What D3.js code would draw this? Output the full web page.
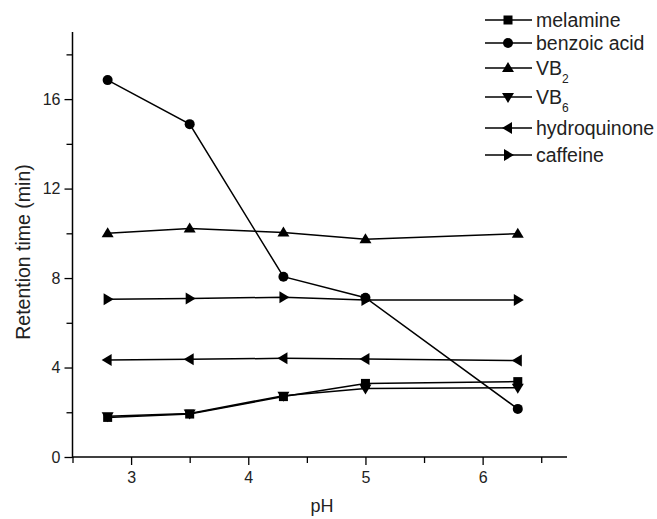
<!DOCTYPE html>
<html>
<head>
<meta charset="utf-8">
<script src="https://cdn.jsdelivr.net/npm/d3@7"></script>
<style>
  body { margin: 0; background: #fff; }
  svg { font-family: "Liberation Sans", Arial, sans-serif; }
</style>
</head>
<body>
<svg id="chart" width="657" height="519"></svg>
<script>
const phValues = [2.8, 3.5, 4.3, 5.0, 6.3];
const seriesNames = ['melamine', 'benzoic acid', 'VB2', 'VB6', 'hydroquinone', 'caffeine'];
const melamine = [1.77, 1.92, 2.7, 3.29, 3.37];
const benzoicAcid = [16.85, 14.88, 8.06, 7.12, 2.15];
const vb2 = [10.0, 10.22, 10.04, 9.74, 9.98];
const vb6 = [1.82, 1.95, 2.74, 3.06, 3.1];
const hydroquinone = [4.34, 4.37, 4.41, 4.38, 4.31];
const caffeine = [7.05, 7.09, 7.14, 7.02, 7.02];
const xMajorTicks = [3, 4, 5, 6];
const xMinorTicks = [2.5, 3.5, 4.5, 5.5, 6.5];
const yMajorTicks = [0, 4, 8, 12, 16];
const yMinorTicks = [2, 6, 10, 14, 18];

const allValues = [melamine, benzoicAcid, vb2, vb6, hydroquinone, caffeine];
const symbols = ['square', 'circle', 'up', 'down', 'left', 'right'];

const svg = d3.select('#chart');
const x = d3.scaleLinear().domain([2.5, 6.72]).range([72.5, 567]);
const y = d3.scaleLinear().domain([0, 19]).range([457, 32]);

// axes (ticks from d3, axis lines drawn separately so the ends have no caps)
const xAxis = svg.append('g').attr('transform', `translate(0,${y(0)})`);
xAxis.append('g').attr('class', 'major')
  .call(d3.axisBottom(x).tickValues(xMajorTicks).tickSize(8).tickFormat(d3.format('d')));
xAxis.append('g').attr('class', 'minor')
  .call(d3.axisBottom(x).tickValues(xMinorTicks).tickSize(6).tickFormat(''));
const yAxis = svg.append('g').attr('transform', `translate(${x(2.5)},0)`);
yAxis.append('g').attr('class', 'major')
  .call(d3.axisLeft(y).tickValues(yMajorTicks).tickSize(8).tickFormat(d3.format('d')));
yAxis.append('g').attr('class', 'minor')
  .call(d3.axisLeft(y).tickValues(yMinorTicks).tickSize(6).tickFormat(''));
svg.selectAll('.domain').remove();

xAxis.append('line').attr('x1', x(2.5)).attr('x2', x(6.72)).attr('stroke', '#000').attr('stroke-width', 1.5);
yAxis.append('line').attr('y1', y(0) + 0.75).attr('y2', y(19)).attr('stroke', '#000').attr('stroke-width', 1.5);

svg.selectAll('.tick line').attr('stroke', '#000').attr('stroke-width', 1.3);
svg.selectAll('.tick text').attr('font-size', 16).attr('fill', '#222');
xAxis.selectAll('.tick text').attr('y', 15);
yAxis.selectAll('.tick text').attr('x', -12);

// axis titles
svg.append('text').attr('x', 322).attr('y', 512).attr('text-anchor', 'middle')
  .attr('font-size', 18).attr('fill', '#222').text('pH');
svg.append('text').attr('transform', 'translate(30,252) rotate(-90)').attr('text-anchor', 'middle')
  .attr('font-size', 19.5).attr('fill', '#222').text('Retention time (min)');

function drawMarker(g, type, cx, cy) {
  const s = 5;
  if (type === 'square') {
    g.append('rect').attr('x', cx - 4.5).attr('y', cy - 4.5).attr('width', 9).attr('height', 9).attr('fill', '#000');
  } else if (type === 'circle') {
    g.append('circle').attr('cx', cx).attr('cy', cy).attr('r', 5).attr('fill', '#000');
  } else {
    let pts;
    if (type === 'up') pts = [[cx, cy - s - 1], [cx - s - 1, cy + s - 1], [cx + s + 1, cy + s - 1]];
    if (type === 'down') pts = [[cx, cy + s + 1], [cx - s - 1, cy - s + 1], [cx + s + 1, cy - s + 1]];
    if (type === 'left') pts = [[cx - s - 1, cy], [cx + s - 1, cy - s - 1], [cx + s - 1, cy + s + 1]];
    if (type === 'right') pts = [[cx + s + 1, cy], [cx - s + 1, cy - s - 1], [cx - s + 1, cy + s + 1]];
    g.append('polygon').attr('points', pts.map(p => p.join(',')).join(' ')).attr('fill', '#000');
  }
}

const line = d3.line().x(d => x(d[0])).y(d => y(d[1]));
allValues.forEach((vals, i) => {
  const g = svg.append('g');
  const pts = phValues.map((p, j) => [p, vals[j]]);
  g.append('path').attr('d', line(pts)).attr('fill', 'none').attr('stroke', '#000').attr('stroke-width', 1.5);
  pts.forEach(p => drawMarker(g, symbols[i], x(p[0]), y(p[1])));
});

// legend
const legendY = [20, 43, 68, 97, 128, 155];
seriesNames.forEach((name, i) => {
  const g = svg.append('g');
  const ly = legendY[i];
  g.append('line').attr('x1', 485).attr('x2', 532).attr('y1', ly).attr('y2', ly).attr('stroke', '#000').attr('stroke-width', 1.5);
  drawMarker(g, symbols[i], 508, ly);
  const t = g.append('text').attr('x', 536).attr('y', ly + 7).attr('font-size', 19.5).attr('fill', '#222');
  if (name.startsWith('VB')) {
    t.append('tspan').text('VB');
    t.append('tspan').attr('font-size', 12).attr('dy', 8).text(name.slice(2));
  } else {
    t.text(name);
  }
});
</script>
</body>
</html>
